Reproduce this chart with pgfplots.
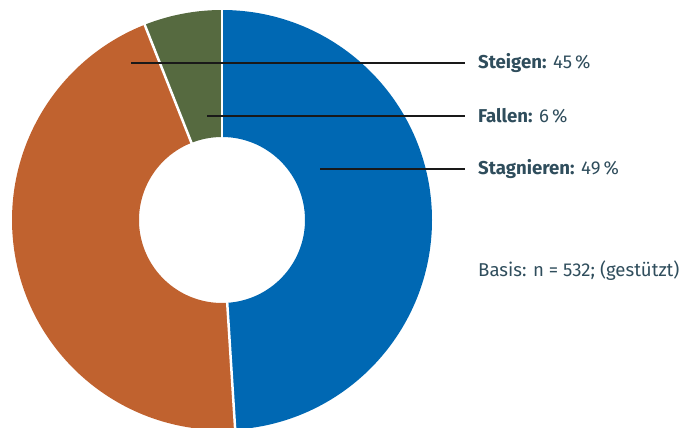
\documentclass[border=0pt]{standalone}
\usepackage{pgfplots}
\pgfplotsset{compat=1.18}
\usepackage{pgfplotstable}
\usepackage{fontspec}
\setmainfont{Fira Sans}
\definecolor{cblue}{HTML}{0068B3}
\definecolor{corange}{HTML}{C0622F}
\definecolor{cgreen}{HTML}{566A40}
\definecolor{ctext}{HTML}{2F4D5C}
\pgfplotstableread{
label value
Stagnieren 49
Steigen 45
Fallen 6
}\datatable
\pgfplotstablegetelem{0}{value}\of\datatable \let\va\pgfplotsretval
\pgfplotstablegetelem{1}{value}\of\datatable \let\vb\pgfplotsretval
\pgfplotstablegetelem{2}{value}\of\datatable \let\vc\pgfplotsretval
\pgfmathsetmacro\aA{90}
\pgfmathsetmacro\aB{90-3.6*\va}
\pgfmathsetmacro\aC{\aB-3.6*\vb}
\pgfmathsetmacro\aD{\aC-3.6*\vc}
\def\Rout{210}
\def\Rin{83}
\pgfmathsetmacro\dr{\Rout-\Rin}
\begin{document}
\begin{tikzpicture}
\begin{axis}[x=1pt,y=1pt,xmin=0,xmax=685,ymin=0,ymax=428,hide axis,scale only axis]
\path (axis cs:0,0) rectangle (axis cs:685,428);
\fill[cblue] (axis cs:222,208) ++(\aA:\Rout pt) arc[start angle=\aA,end angle=\aB,radius=\Rout pt] -- ++(\aB:-\dr pt) arc[start angle=\aB,end angle=\aA,radius=\Rin pt] -- cycle;
\fill[corange] (axis cs:222,208) ++(\aB:\Rout pt) arc[start angle=\aB,end angle=\aC,radius=\Rout pt] -- ++(\aC:-\dr pt) arc[start angle=\aC,end angle=\aB,radius=\Rin pt] -- cycle;
\fill[cgreen] (axis cs:222,208) ++(\aC:\Rout pt) arc[start angle=\aC,end angle=\aD,radius=\Rout pt] -- ++(\aD:-\dr pt) arc[start angle=\aD,end angle=\aC,radius=\Rin pt] -- cycle;
\draw[white,line width=2.5pt] (axis cs:222,208) ++(\aA:80pt) -- ++(\aA:135pt);
\draw[white,line width=2.5pt] (axis cs:222,208) ++(\aB:80pt) -- ++(\aB:135pt);
\draw[white,line width=2.5pt] (axis cs:222,208) ++(\aC:80pt) -- ++(\aC:135pt);
\draw[black!90,line width=1.1pt] (axis cs:131,365) -- (axis cs:465,365);
\draw[black!90,line width=1.1pt] (axis cs:207,312) -- (axis cs:465,312);
\draw[black!90,line width=1.1pt] (axis cs:320,259) -- (axis cs:465,259);
\node[anchor=west,text=ctext,font=\fontsize{18.6}{22}\selectfont,inner sep=0pt] at (axis cs:478,365) {\textbf{Steigen:} 45\,\%};
\node[anchor=west,text=ctext,font=\fontsize{18.6}{22}\selectfont,inner sep=0pt] at (axis cs:478,312) {\textbf{Fallen:} 6\,\%};
\node[anchor=west,text=ctext,font=\fontsize{18.6}{22}\selectfont,inner sep=0pt] at (axis cs:478,259) {\textbf{Stagnieren:} 49\,\%};
\node[anchor=west,text=ctext,font=\fontsize{18.6}{22}\selectfont,inner sep=0pt] at (axis cs:478,157) {Basis: n = 532; (gestützt)};
\end{axis}
\end{tikzpicture}
\end{document}
